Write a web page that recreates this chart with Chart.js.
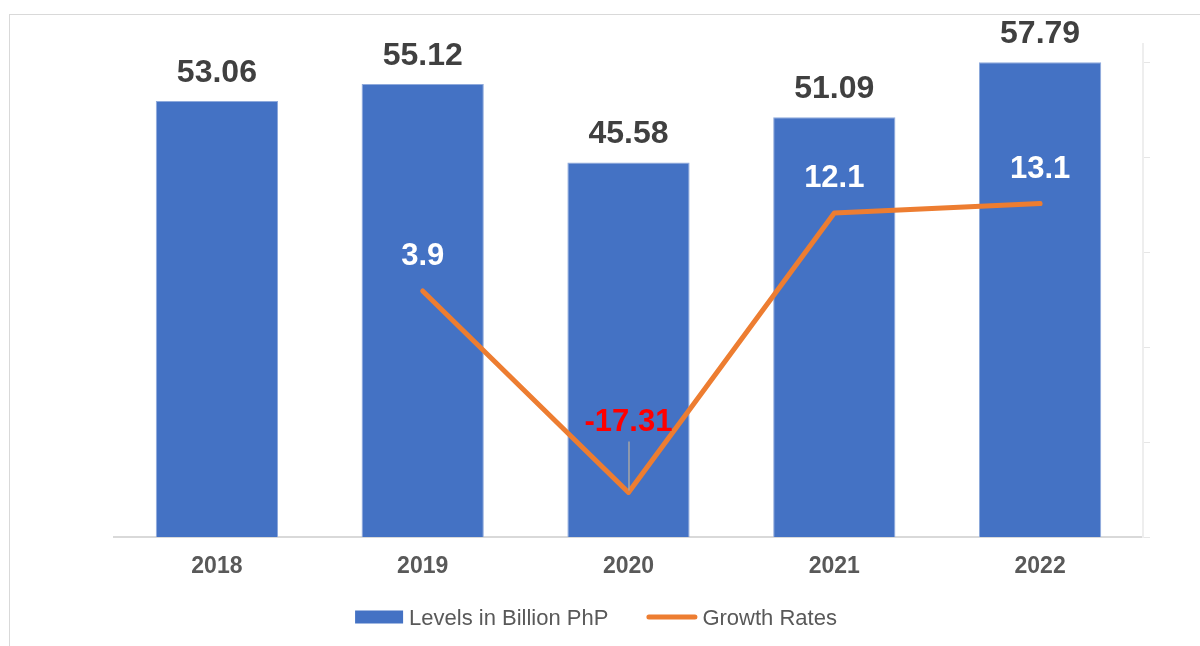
<!DOCTYPE html>
<html>
<head>
<meta charset="utf-8">
<script src="https://cdn.jsdelivr.net/npm/chart.js@4.4.0/dist/chart.umd.min.js"></script>
<style>
  html, body { margin: 0; padding: 0; background: #fff; }
  #frame { position: absolute; left: 9px; top: 14px; width: 1200px; height: 640px; border-left: 1px solid #d9d9d9; border-top: 1px solid #d9d9d9; }
  #wrap { position: absolute; left: 0; top: 0; width: 1200px; height: 646px; }
</style>
</head>
<body>
<div id="frame"></div>
<div id="wrap"><canvas id="chart"></canvas></div>
<script>
// Chart data
const years = ['2018', '2019', '2020', '2021', '2022'];
const levels = [53.06, 55.12, 45.58, 51.09, 57.79];
const growth = [null, 3.9, -17.31, 12.1, 13.1];
const rightTicks = [-22, -12, -2, 8, 18, 28];
const seriesNames = ['Levels in Billion PhP', 'Growth Rates'];

const FONT = '"Liberation Sans", Arial, sans-serif';
const BLUE = '#4472c4';
const ORANGE = '#ed7d31';

// value labels above bars / on the line
const valueLabels = {
  id: 'valueLabels',
  afterDatasetsDraw(chart) {
    const ctx = chart.ctx;
    ctx.save();
    ctx.textAlign = 'center';
    ctx.textBaseline = 'alphabetic';
    ctx.font = 'bold 32px ' + FONT;

    chart.getDatasetMeta(0).data.forEach((bar, i) => {
      ctx.fillStyle = '#404040';
      ctx.fillText(levels[i].toFixed(2), bar.x, bar.y - 19);
    });

    ctx.font = 'bold 31px ' + FONT;
    chart.getDatasetMeta(1).data.forEach((pt, i) => {
      const v = growth[i];
      if (v == null) return;
      if (v < 0) {
        ctx.fillStyle = '#ff0000';
        ctx.fillText(String(v), pt.x, pt.y - 61);
        ctx.strokeStyle = '#a6a6a6';
        ctx.lineWidth = 1.5;
        ctx.beginPath();
        ctx.moveTo(Math.round(pt.x), pt.y - 51);
        ctx.lineTo(Math.round(pt.x), pt.y - 2);
        ctx.stroke();
      } else {
        ctx.fillStyle = '#ffffff';
        ctx.fillText(String(v), pt.x, pt.y - 26);
      }
    });
    ctx.restore();
  }
};

// legend row at the bottom
const legendRow = {
  id: 'legendRow',
  afterDraw(chart) {
    const ctx = chart.ctx;
    const ds = chart.data.datasets;
    ctx.save();
    ctx.font = '22px ' + FONT;
    const w1 = ctx.measureText(ds[0].label).width;
    const w2 = ctx.measureText(ds[1].label).width;
    const total = 48 + 6 + w1 + 38 + 51 + 5 + w2;
    let x = 596 - total / 2;
    const y = 617;

    ctx.fillStyle = ds[0].backgroundColor;
    ctx.fillRect(x, y - 6.5, 48, 13);
    x += 54;
    ctx.fillStyle = '#595959';
    ctx.textBaseline = 'alphabetic';
    ctx.fillText(ds[0].label, x, 625);
    x += w1 + 38;

    ctx.strokeStyle = ds[1].borderColor;
    ctx.lineWidth = 5;
    ctx.lineCap = 'round';
    ctx.beginPath();
    ctx.moveTo(x + 2.5, y);
    ctx.lineTo(x + 48.5, y);
    ctx.stroke();
    x += 56;
    ctx.fillText(ds[1].label, x, 625);
    ctx.restore();
  }
};

new Chart(document.getElementById('chart'), {
  type: 'bar',
  data: {
    labels: years,
    datasets: [
      {
        type: 'bar',
        label: seriesNames[0],
        data: levels,
        yAxisID: 'y',
        backgroundColor: BLUE,
        borderColor: '#8faadc',
        borderWidth: 1,
        barPercentage: 0.594,
        categoryPercentage: 1,
        order: 1
      },
      {
        type: 'line',
        label: seriesNames[1],
        data: growth,
        yAxisID: 'y2',
        borderColor: ORANGE,
        backgroundColor: ORANGE,
        borderWidth: 5,
        pointRadius: 0,
        borderCapStyle: 'round',
        borderJoinStyle: 'round',
        tension: 0,
        order: 0
      }
    ]
  },
  options: {
    responsive: true,
    maintainAspectRatio: false,
    animation: false,
    layout: { padding: { left: 114, right: 47, top: 44, bottom: 69 } },
    plugins: {
      legend: { display: false },
      tooltip: { enabled: false }
    },
    scales: {
      x: {
        grid: { display: false, drawTicks: false },
        border: { color: '#d9d9d9', width: 2 },
        ticks: {
          color: '#595959',
          font: { family: FONT, size: 23, weight: 'bold' },
          padding: 16
        },
        afterFit: s => { s.height = 40; }
      },
      y: {
        display: false,
        min: 0,
        max: 60
      },
      y2: {
        position: 'right',
        min: -22,
        max: 29.9,
        afterBuildTicks: s => { s.ticks = rightTicks.map(v => ({ value: v })); },
        ticks: { display: false },
        grid: { drawOnChartArea: false, drawTicks: true, tickLength: 7, color: '#e6e6e6' },
        border: { color: '#eeeeee', width: 2 },
        afterFit: s => { s.width = 10; }
      }
    }
  },
  plugins: [valueLabels, legendRow]
});
</script>
</body>
</html>
